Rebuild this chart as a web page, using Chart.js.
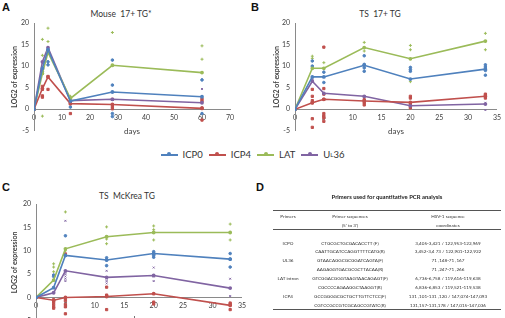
<!DOCTYPE html>
<html lang="en">
<head>
<meta charset="UTF-8">
<title>HSV-1 gene expression</title>
<script src="https://cdn.jsdelivr.net/npm/chart.js"></script>
<style>
  body { margin: 0; width: 505px; height: 318px; overflow: hidden; background: #fff; position: relative;
         font-family: Lato, "Liberation Sans", sans-serif; color: #404040; }
  canvas { position: absolute; }
  .panel { position: absolute; font: bold 11px "Liberation Sans", Arial, sans-serif; color: #111; }
  .ctitle { position: absolute; font-size: 8.5px; transform: translateX(-50%); white-space: nowrap; color: #333; }
  #legend { position: absolute; left: 0; top: 149px; width: 505px; display: flex; justify-content: center;
            font-size: 9.5px; color: #333; }
  #legend .item { display: flex; align-items: center; margin: 0 3px; }
  #legend .swatch { position: relative; width: 17px; height: 2px; margin-right: 5px; }
  #legend .swatch i { position: absolute; left: 6.5px; top: -1.5px; width: 4px; height: 4px; border-radius: 2px; }
  #tableD { position: absolute; left: 273px; top: 0; width: 228px; height: 318px; font-size: 4.6px; color: #333; }
  #tableD div { position: absolute; white-space: nowrap; text-align: center; }
  #tableD .rule { height: 0; border-top: 0.8px solid #555; left: 0; width: 228px; }
</style>
</head>
<body>

<div class="panel" style="left:2px; top:1px;">A</div>
<div class="panel" style="left:251px; top:1px;">B</div>
<div class="panel" style="left:2px; top:181px;">C</div>
<div class="panel" style="left:256px; top:181px;">D</div>

<div class="ctitle" style="left:121px; top:9px;">Mouse&nbsp; 17+ TG*</div>
<div class="ctitle" style="left:380px; top:9px;">TS&nbsp; 17+ TG</div>
<div class="ctitle" style="left:127px; top:191px;">TS&nbsp; McKrea TG</div>

<canvas id="chartA" width="248" height="140" style="left:0; top:0;"></canvas>
<canvas id="chartB" width="255" height="140" style="left:250px; top:0;"></canvas>
<canvas id="chartC" width="250" height="150" style="left:0; top:180px;"></canvas>

<div id="legend"></div>
<div id="tableD"></div>

<script>
  // genes shown in every panel
  const genes = ['ICP0', 'ICP4', 'LAT', 'UL36'];
  const colors = ['#4F81BD', '#C0504D', '#9BBB59', '#8064A2'];

  // A: Mouse 17+ TG*
  const daysA = [0, 3, 5, 13, 28, 60];
  const icp0A = [0, 9.5, 13.8, 1.9, 4.0, 2.9];
  const icp4A = [0, 4.8, 7.5, 1.3, 1.1, 0.2];
  const latA  = [0, 8.3, 13.2, 2.5, 10.2, 8.5];
  const ul36A = [0, 11.0, 14.3, 2.0, 2.3, 1.5];
  const icp0RepA = [[], [9.3, 8.8], [11.0, 10.3], [0.5, 1.8], [11.4, 5.6, -1.0, -1.7], [6.8, -1.0]];
  const icp4RepA = [[], [5.3, 4.6, 3.1, 2.8], [7.6, 4.6], [-1.0, 1.3], [2.3, 0.6, 0.1], [2.4, 1.9, 0.3, -2.5]];
  const latRepA  = [[], [16.2, 12.5, -1.6], [18.8, 15.7], [3.0], [17.8], [14.7, 11.6]];
  const ul36RepA = [[], [], [14.0], [2.6], [], [4.7]];

  // B: TS 17+ TG
  const daysB = [0, 3, 5, 12, 20, 33];
  const icp0B = [0, 7.5, 7.5, 10.2, 7.0, 9.3];
  const icp4B = [0, 1.5, 2.3, 1.9, 1.6, 3.0];
  const latB  = [0, 9.5, 9.5, 14.3, 11.7, 15.8];
  const ul36B = [0, 6.5, 3.7, 3.0, 0.8, 1.2];
  const icp0RepB = [[], [11.2, 10.0], [8.6, 6.2], [12.4, 10.4, 9.6, 8.8], [9.7, 9.2, 8.8], [10.3, 9.8, 9.0, 7.9]];
  const icp4RepB = [[], [4.6, 3.0, 2.0, 1.5, -2.2, -4.2], [14.4, 4.8, 3.5, 2.3, -1.0, -1.6, -2.0, -2.8], [2.2, 1.5, 1.0], [3.0, 2.6, 1.2, 0.7, 0.3], [3.5, 3.2, 2.6]];
  const latRepB  = [[], [12.3, 11.8], [10.8], [15.5, 13.5], [14.8, 13.8, 6.4], [17.6, 15.7, 13.8]];
  const ul36RepB = [[], [7.0, 6.6], [], [3.0, 2.5], [], [1.5, -0.2]];

  // C: TS McKrea TG
  const daysC = [0, 3, 5, 12, 20, 33];
  const icp0C = [0, 2.1, 9.0, 8.0, 9.4, 8.2];
  const icp4C = [0, -0.6, 0.0, 0.2, 0.8, -1.7];
  const latC  = [0, 3.7, 10.4, 13.0, 13.9, 13.9];
  const ul36C = [0, 1.0, 5.7, 4.3, 4.7, 2.0];
  const icp0RepC = [[], [4.8, 4.5], [13.2, 9.0], [8.5, 8.0, 6.8], [9.8, 9.3, 9.0, 8.6], [9.4, 8.2, 6.5]];
  const icp4RepC = [[], [-0.5, -1.0, -1.5, -2.0, -2.3], [9.3, -0.2, -0.7, -1.5, -2.0, -3.5], [2.2, 0.5, 0.3, -2.6], [-1.0, -1.4], [-1.2, -1.5, -2.6]];
  const latRepC  = [[], [7.2, 6.5, 5.5], [18.3, 10.0], [15.1, 12.5, 11.5], [15.3, 14.5, 12.3], [15.7, 12.3]];
  const ul36RepC = [[], [2.0, 1.0], [16.4, 5.5, 5.0, 4.5, 4.0, 3.5], [5.7, 4.0, 3.5, 3.0], [6.4, 4.5, 3.5], [4.0, 0.3]];

  // D: primer table
  const primerNames = ['ICPO', '', 'UL36', '', 'LAT intron', '', 'ICP4', ''];
  const primerSeqs = [
    'CTGCGCTGCGACACCTT (F)', 'CAATTGCATCCAGGTTTTCATG(R)',
    'GTAACAGGCGCGGATCAGTA(F)', 'AAGAGGTGACGCGCTTACAA(R)',
    'GTCGGACGGGTAAGTAACAGAGT(F)', 'CGCCCCAGAAGGCTAAGGT(R)',
    'GCCGGGGCGCTGCTTGTTCTCC(F)', 'CGTCCGCCGTCGCAGCCGTATC(R)'
  ];
  const primerCoords = [
    '3,405-3,421 / 122,953-122,969', '3,452-3,4 73 / 122,901-122,922',
    '71 ,148-71 ,167', '71 ,247-71 ,266',
    '6,736-6,758 / 119,616-119,638', '6,836-6,853 / 119,521-119,538',
    '131 ,101-131 ,120 / 147,074-147,093', '131,157-131,178 / 147,015-147,036'
  ];

  Chart.defaults.font.family = 'Lato, "Liberation Sans", sans-serif';
  Chart.defaults.color = '#404040';

  const repStyles = ['circle', 'rect', 'cross', 'crossRot'];
  const repSizes = [1.3, 1.6, 1.5, 1.3];

  function buildDatasets(days, means, reps) {
    var sets = [];
    genes.forEach(function(g, i) {
      var pts = [];
      days.forEach(function(d, k) {
        reps[i][k].forEach(function(v) { pts.push({x: d, y: v}); });
      });
      sets.push({
        label: g + ' replicates', data: pts, showLine: false,
        pointStyle: repStyles[i], pointRadius: repSizes[i], borderWidth: 1,
        backgroundColor: colors[i], borderColor: colors[i], order: 2
      });
    });
    genes.forEach(function(g, i) {
      sets.push({
        label: g, data: days.map(function(d, k) { return {x: d, y: means[i][k]}; }),
        showLine: true, borderWidth: 1.6, pointRadius: 1.1, pointStyle: 'circle',
        borderColor: colors[i], backgroundColor: colors[i], order: 1
      });
    });
    return sets;
  }

  function makeChart(id, days, means, reps, xMax, xStep, yWidth, yTitlePad, padding) {
    return new Chart(document.getElementById(id), {
      type: 'scatter',
      data: { datasets: buildDatasets(days, means, reps) },
      options: {
        responsive: false,
        animation: false,
        layout: { padding: padding },
        plugins: { legend: { display: false }, tooltip: { enabled: false } },
        scales: {
          x: {
            type: 'linear', min: 0, max: xMax, position: { y: 0 },
            grid: { display: false, drawTicks: false },
            border: { color: '#8a8a8a' },
            ticks: { stepSize: xStep, padding: 4, font: { size: 7 } },
            title: { display: true, text: 'days', font: { size: 8 }, padding: { top: 1, bottom: 0 } }
          },
          y: {
            min: -5, max: 20,
            grid: { display: false, drawTicks: false },
            border: { color: '#8a8a8a' },
            ticks: { stepSize: 5, padding: 5, font: { size: 7 } },
            title: { display: true, text: 'LOG2 of expression', font: { size: 7, weight: 'bold' }, padding: { top: yTitlePad, bottom: 0 } },
            afterFit: function(scale) { scale.width = yWidth; }
          }
        }
      }
    });
  }

  makeChart('chartA', daysA, [icp0A, icp4A, latA, ul36A], [icp0RepA, icp4RepA, latRepA, ul36RepA],
            70, 10, 34, 11, { top: 23, right: 18, bottom: 6, left: 0 });
  makeChart('chartB', daysB, [icp0B, icp4B, latB, ul36B], [icp0RepB, icp4RepB, latRepB, ul36RepB],
            35, 5, 45, 23, { top: 23, right: 2, bottom: 6, left: 0 });
  makeChart('chartC', daysC, [icp0C, icp4C, latC, ul36C], [icp0RepC, icp4RepC, latRepC, ul36RepC],
            35, 5, 36, 11, { top: 24, right: 7, bottom: 9, left: 0 });

  // shared legend
  var legend = document.getElementById('legend');
  genes.forEach(function(g, i) {
    var item = document.createElement('div');
    item.className = 'item';
    var label = g === 'UL36' ? 'U<sub style="font-size:6px">L</sub>36' : g;
    item.innerHTML = '<span class="swatch" style="background:' + colors[i] + '"><i style="background:' + colors[i] + '"></i></span>' + label;
    legend.appendChild(item);
  });

  // primer table
  var table = document.getElementById('tableD');
  function put(html, left, top, width, extra) {
    var el = document.createElement('div');
    el.innerHTML = html;
    el.style.left = left + 'px';
    el.style.top = top + 'px';
    if (width) el.style.width = width + 'px';
    if (extra) el.style.cssText += extra;
    table.appendChild(el);
    return el;
  }
  put('Primers used for quantitative PCR analysis', 0, 193, 228, 'font-size:5.9px;font-weight:bold;color:#222;');
  put('', 0, 210).className = 'rule';
  put('Primers', 0, 213, 30);
  put('Primer sequences', 37, 213, 80);
  put('(5\' to 3\')', 37, 221.5, 80);
  put('HSV-1 sequence', 125, 213, 100);
  put('coordinates', 125, 221.5, 100);
  put('', 0, 228.5).className = 'rule';
  var rowTops = [240, 248, 256.5, 265.5, 274.5, 284, 293, 302];
  primerSeqs.forEach(function(s, k) {
    put(primerNames[k], 0, rowTops[k], 30);
    put(s, 37, rowTops[k], 80);
    put(primerCoords[k], 125, rowTops[k], 100);
  });
  put('', 0, 308.5).className = 'rule';
</script>

</body>
</html>
